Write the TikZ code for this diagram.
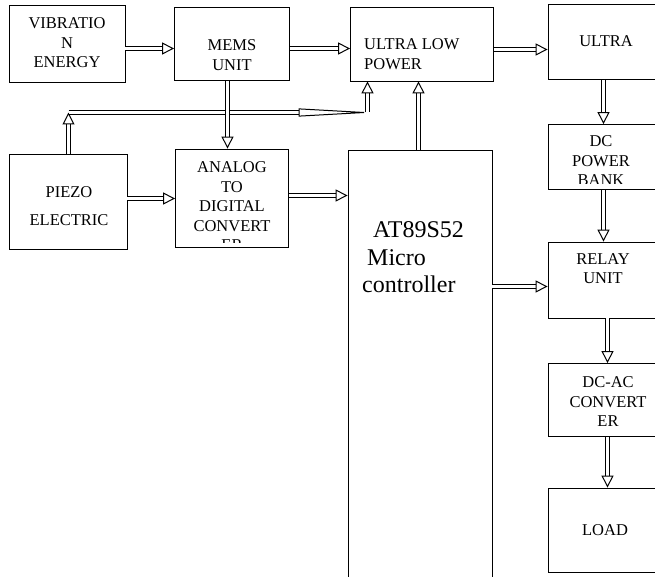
\documentclass[tikz,border=0pt]{standalone}
\usepackage{fontspec}
\setmainfont{Liberation Serif}
\usetikzlibrary{arrows.meta}

\begin{document}
\begin{tikzpicture}[x=1pt,y=-1pt]
	\tikzstyle{block} = [draw, rectangle, line width=0.8pt, inner sep=0pt]
	\tikzstyle{txt} = [align=center, inner sep=0pt, font=\fontsize{16.5}{19.5}\selectfont]
	\tikzstyle{dbl} = [double, double distance=3pt, line width=1pt, -{Triangle[open,length=12pt,width=12pt]}]
	\clip (0,0) rectangle (655,577);

	\node[block, minimum width=116pt, minimum height=77pt] (VIB) at (67,44) {};
	\node[txt] (VIBtext) at (67,43) {VIBRATIO\\N\\ENERGY};

	\node[block, minimum width=115pt, minimum height=73pt] (MEMS) at (232,44) {};
	\node[txt] (MEMStext) at (232,55) {MEMS\\UNIT};

	\node[block, minimum width=143pt, minimum height=74pt] (ULP) at (422,44) {};
	\node[txt, align=left, anchor=west] (ULPtext) at (364,54) {ULTRA LOW\\POWER};

	\node[block, minimum width=114pt, minimum height=75pt] (ULTRA) at (605,42) {};
	\node[txt] (ULTRAtext) at (606,41) {ULTRA};

	\node[block, minimum width=114pt, minimum height=65pt] (DCPB) at (605,157) {};
	\begin{scope}
		\clip (548,124) rectangle (662,184);
		\node[txt] (DCPBtext) at (601,161) {DC\\POWER\\BANK};
	\end{scope}

	\node[block, minimum width=118pt, minimum height=95pt] (PIEZO) at (68,202) {};
	\node[txt, font=\fontsize{16.5}{28}\selectfont] (PIEZOtext) at (69,206) {PIEZO\\ELECTRIC};

	\node[block, minimum width=113pt, minimum height=98pt] (ADC) at (232,198) {};
	\begin{scope}
		\clip (176,149) rectangle (289,242);
		\node[txt] (ADCtext) at (232,206.5) {ANALOG\\TO\\DIGITAL\\CONVERT\\ER};
	\end{scope}

	\node[block, minimum width=144pt, minimum height=460pt] (MCU) at (420,380) {};
	\node[txt, align=left, anchor=west, font=\fontsize{24}{27.5}\selectfont] (MCUtext) at (362,257.5) {\hspace{11pt}AT89S52\\\hspace{5pt}Micro\\controller};

	\node[block, minimum width=114pt, minimum height=76pt] (RELAY) at (605,280) {};
	\node[txt] (RELAYtext) at (603,268.5) {RELAY\\UNIT};

	\node[block, minimum width=114pt, minimum height=73pt] (DCAC) at (605,400) {};
	\node[txt] (DCACtext) at (608,402) {DC-AC\\CONVERT\\ER};

	\node[block, minimum width=114pt, minimum height=84pt] (LOAD) at (605,530) {};
	\node[txt] (LOADtext) at (605,530) {LOAD};

	\coordinate (J1) at (68.5,112.5);
	\coordinate (J2) at (367.5,112.5);

	\draw[dbl] ([yshift=-4.5pt]VIB.east) -- ([yshift=-4.5pt]VIB.east -| MEMS.west);
	\draw[dbl] ([yshift=-4.5pt]MEMS.east) -- ([yshift=-4.5pt]MEMS.east -| ULP.west);
	\draw[dbl] ([yshift=-5.5pt]ULP.east) -- ([yshift=-5.5pt]ULP.east -| ULTRA.west);
	\draw[dbl] ([xshift=0.5pt]PIEZO.north) -- (J1);
	\draw[dbl, -{Triangle[open,length=75pt,width=8pt]}] (J1) -- ([xshift=6pt]J2);
	\draw[dbl] (J2) -- (J2 |- ULP.south);
	\draw[dbl] ([xshift=-4.5pt]MEMS.south) -- ([xshift=-4.5pt]MEMS.south |- ADC.north);
	\draw[dbl] ([xshift=-1.5pt]MCU.north) -- ([xshift=-1.5pt]MCU.north |- ULP.south);
	\draw[dbl] ([yshift=3.5pt]PIEZO.east) -- ([yshift=3.5pt]PIEZO.east -| ADC.west);
	\draw[dbl] ([yshift=2.5pt]ADC.east) -- ([yshift=2.5pt]ADC.east -| MCU.west);
	\draw[dbl] ([xshift=-1.5pt]ULTRA.south) -- ([xshift=-1.5pt]DCPB.north);
	\draw[dbl] ([xshift=-1.5pt]DCPB.south) -- ([xshift=-1.5pt]RELAY.north);
	\draw[dbl] ([yshift=-6.5pt]MCU.east |- RELAY.west) -- ([yshift=-6.5pt]RELAY.west);
	\draw[dbl] ([xshift=2.5pt]RELAY.south) -- ([xshift=2.5pt]DCAC.north);
	\draw[dbl] ([xshift=2.5pt]DCAC.south) -- ([xshift=2.5pt]LOAD.north);
\end{tikzpicture}
\end{document}
